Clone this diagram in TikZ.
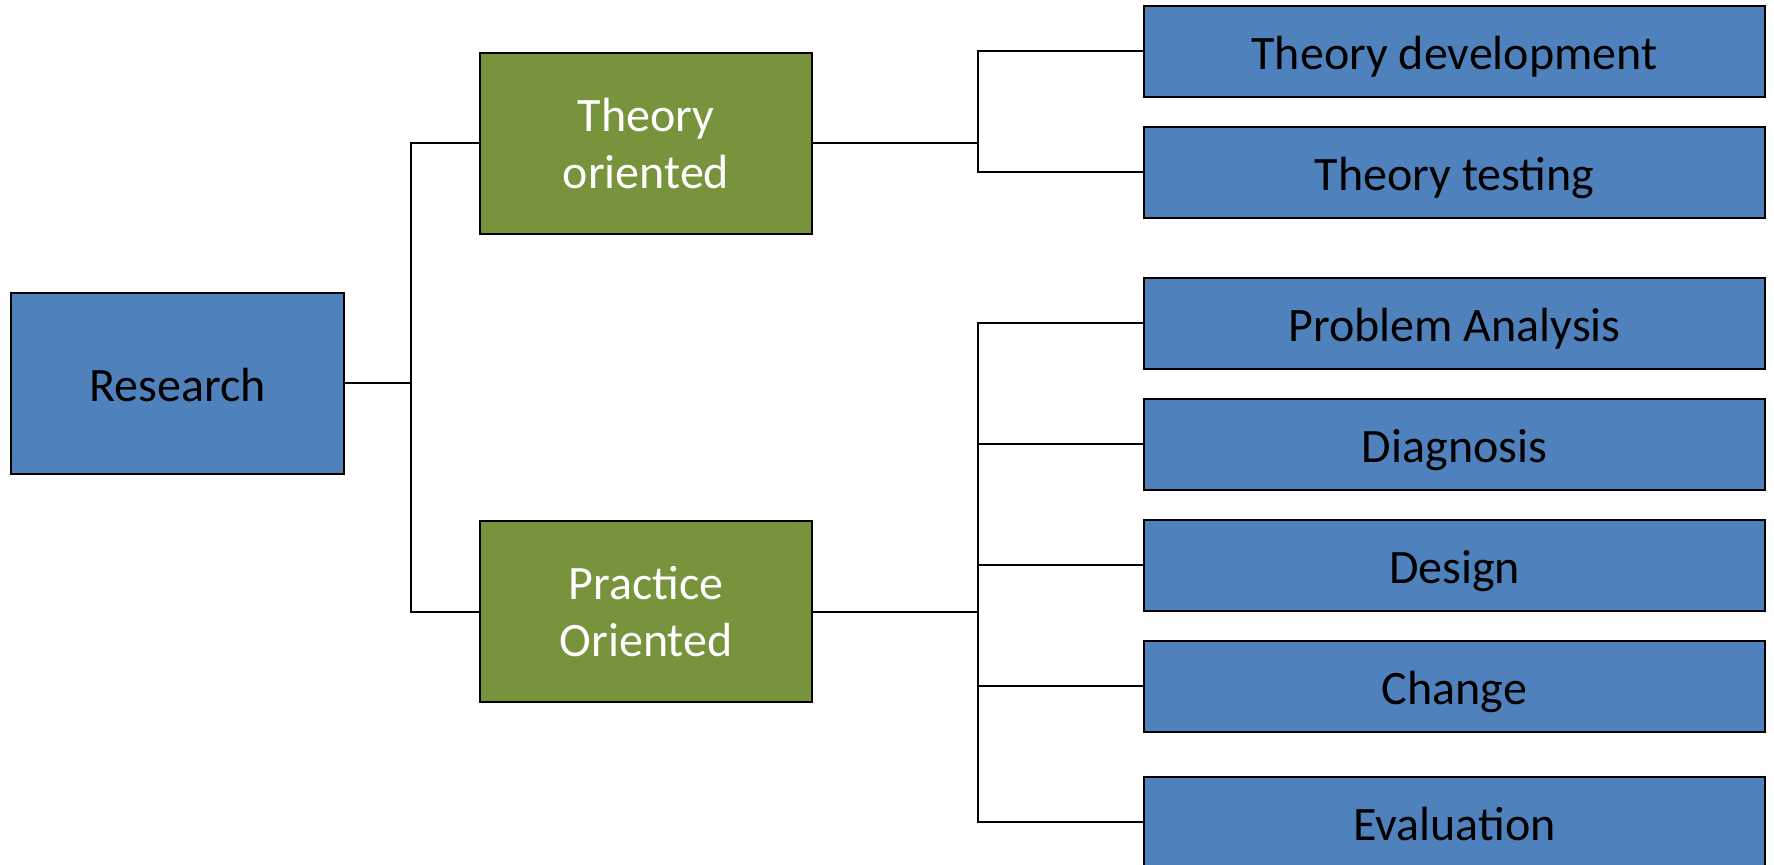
\documentclass[tikz,border=0pt]{standalone}
\usepackage{fontspec}
\setmainfont{Carlito}
\definecolor{boxblue}{HTML}{4F81BD}
\definecolor{boxgreen}{HTML}{77933C}
\begin{document}
\begin{tikzpicture}[x=0.5pt,y=-0.5pt,
  base/.style={draw=black, line width=1pt, inner sep=0pt, align=center,
    font=\fontsize{24}{28.5}\selectfont},
  oneline/.style={text height=19pt, text depth=0.8pt},
  bluebox/.style={base, oneline, fill=boxblue, text=black, minimum width=310.5pt, minimum height=45.5pt},
  greenbox/.style={base, fill=boxgreen, text=white, minimum width=166pt, minimum height=90.5pt},
  rootbox/.style={base, oneline, fill=boxblue, text=black, minimum width=166.5pt, minimum height=90.5pt},
  conn/.style={draw=black, line width=1pt}]
\useasboundingbox (0,0) rectangle (1774,865);
\clip (0,0) rectangle (1774,865);
\node[rootbox] (research) at (177.5,383.5) {Research};
\node[greenbox] (theory) at (646,143.5) {Theory\\oriented};
\node[greenbox] (practice) at (646,612) {Practice\\Oriented};
\node[bluebox] (td) at (1454.5,51.5) {Theory development};
\node[bluebox] (tt) at (1454.5,172.5) {Theory testing};
\node[bluebox] (pa) at (1454.5,323.5) {Problem Analysis};
\node[bluebox] (dg) at (1454.5,444.5) {Diagnosis};
\node[bluebox] (ds) at (1454.5,565.5) {Design};
\node[bluebox] (ch) at (1454.5,686.5) {Change};
\node[bluebox] (ev) at (1454.5,822.5) {Evaluation};
\coordinate (jr) at (411,383.5);
\coordinate (jt) at (978,143.5);
\coordinate (jp) at (978,612);
\draw[conn] (research.east) -- (jr);
\draw[conn] (theory.west) -| (jr) |- (practice.west);
\draw[conn] (theory.east) -- (jt);
\draw[conn] (td.west) -| (jt) |- (tt.west);
\draw[conn] (practice.east) -- (jp);
\draw[conn] (pa.west) -| (jp) |- (ev.west);
\draw[conn] (jp |- dg.west) -- (dg.west);
\draw[conn] (jp |- ds.west) -- (ds.west);
\draw[conn] (jp |- ch.west) -- (ch.west);
\end{tikzpicture}
\end{document}
